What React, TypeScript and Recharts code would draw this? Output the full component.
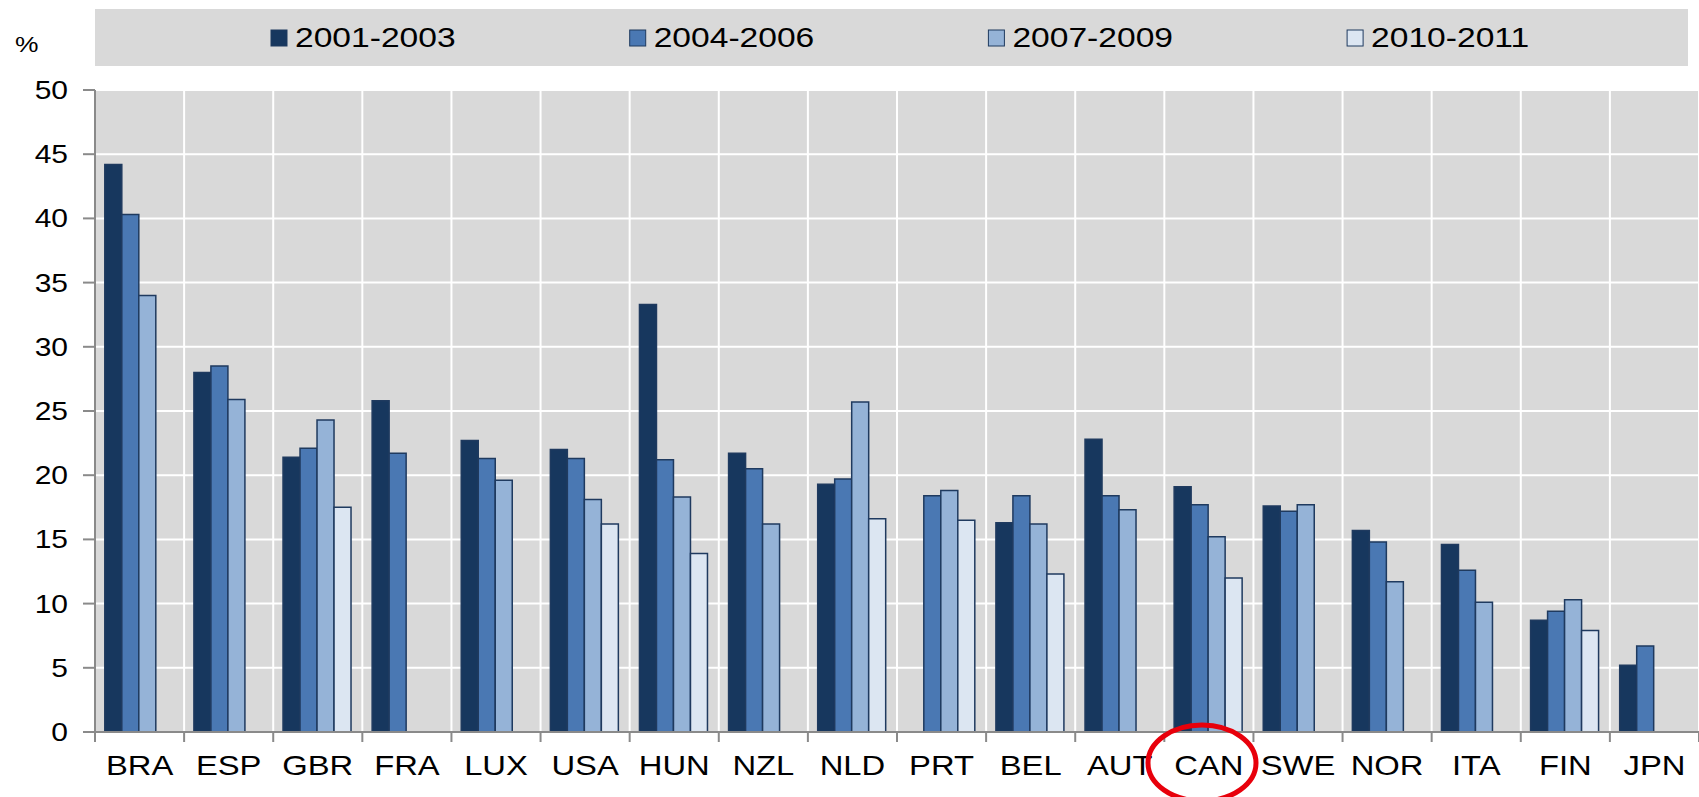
import React from "react";
import { BarChart, Bar, XAxis, YAxis, CartesianGrid } from "recharts";

const countries = ["BRA", "ESP", "GBR", "FRA", "LUX", "USA", "HUN", "NZL", "NLD", "PRT", "BEL", "AUT", "CAN", "SWE", "NOR", "ITA", "FIN", "JPN"];
const p2001_2003 = [44.2, 28.0, 21.4, 25.8, 22.7, 22.0, 33.3, 21.7, 19.3, null, 16.3, 22.8, 19.1, 17.6, 15.7, 14.6, 8.7, 5.2];
const p2004_2006 = [40.3, 28.5, 22.1, 21.7, 21.3, 21.3, 21.2, 20.5, 19.7, 18.4, 18.4, 18.4, 17.7, 17.2, 14.8, 12.6, 9.4, 6.7];
const p2007_2009 = [34.0, 25.9, 24.3, null, 19.6, 18.1, 18.3, 16.2, 25.7, 18.8, 16.2, 17.3, 15.2, 17.7, 11.7, 10.1, 10.3, null];
const p2010_2011 = [null, null, 17.5, null, null, 16.2, 13.9, null, 16.6, 16.5, 12.3, null, 12.0, null, null, null, 7.9, null];
const periods = ["2001-2003", "2004-2006", "2007-2009", "2010-2011"];
const yTicks = [0, 5, 10, 15, 20, 25, 30, 35, 40, 45, 50];

const colors = ["#17375e", "#4a78b3", "#95b3d7", "#dce6f2"];
const W = 1699;
const H = 797;
const AXIS_W = 95;
const PLOT_W = W - AXIS_W;
const FONT = "'Liberation Sans', Arial, sans-serif";

const data = countries.map((name, i) => ({
  name,
  a: p2001_2003[i],
  b: p2004_2006[i],
  c: p2007_2009[i],
  d: p2010_2011[i],
}));
const keys = ["a", "b", "c", "d"];

function XTick({ x, y, payload, index }: any) {
  const band = PLOT_W / countries.length;
  return (
    <g>
      <line x1={x - band / 2} x2={x - band / 2} y1={y} y2={y + 10} stroke="#8a8a8a" strokeWidth={2} />
      {index === countries.length - 1 && (
        <line x1={x + band / 2} x2={x + band / 2} y1={y} y2={y + 10} stroke="#8a8a8a" strokeWidth={2} />
      )}
      <text
        transform={`translate(${x},${y + 43}) scale(1.17,1)`}
        textAnchor="middle"
        fontSize={28}
        fontFamily={FONT}
        fill="#000"
      >
        {payload.value}
      </text>
    </g>
  );
}

function YTick({ x, y, payload }: any) {
  return (
    <text
      transform={`translate(${x},${y}) scale(1.2,1)`}
      textAnchor="end"
      dy="0.36em"
      fontSize={25}
      fontFamily={FONT}
      fill="#000"
    >
      {payload.value}
    </text>
  );
}

export default function App() {
  return (
    <div style={{ position: "absolute", left: 0, top: 0, width: W, height: H, background: "#fff" }}>
      <BarChart
        width={W}
        height={H}
        data={data}
        margin={{ top: 90, right: 0, bottom: 0, left: 0 }}
        barCategoryGap="11%"
        barGap={0}
      >
        <CartesianGrid
          fill="#d9d9d9"
          fillOpacity={1}
          stroke="#ffffff"
          strokeWidth={2}
          verticalCoordinatesGenerator={({ offset }: any) =>
            Array.from({ length: countries.length + 1 }, (_, i) => offset.left + (i * offset.width) / countries.length)
          }
        />
        <XAxis
          dataKey="name"
          interval={0}
          height={65}
          tickSize={0}
          tickMargin={0}
          tickLine={false}
          axisLine={{ stroke: "#8a8a8a", strokeWidth: 2 }}
          tick={<XTick />}
        />
        <YAxis
          type="number"
          domain={[0, 50]}
          ticks={yTicks}
          width={AXIS_W}
          tickSize={12}
          tickMargin={15}
          tickLine={{ stroke: "#8a8a8a", strokeWidth: 2 }}
          axisLine={{ stroke: "#8a8a8a", strokeWidth: 2 }}
          tick={<YTick />}
        />
        {keys.map((k, i) => (
          <Bar
            key={k}
            dataKey={k}
            name={periods[i]}
            fill={colors[i]}
            stroke="#1f3a5f"
            strokeWidth={1.5}
            isAnimationActive={false}
          />
        ))}
      </BarChart>
      <svg
        width={W}
        height={H}
        style={{ position: "absolute", left: 0, top: 0, pointerEvents: "none" }}
      >
        <rect x={95} y={9} width={1593} height={57} fill="#d9d9d9" />
        {periods.map((p, i) => {
          const sx = 271 + i * 358.7;
          return (
            <g key={p}>
              <rect x={sx} y={30} width={16} height={16} fill={colors[i]} stroke="#1f3a5f" strokeWidth={1} />
              <text
                transform={`translate(${sx + 24},46.5) scale(1.2,1)`}
                fontSize={28}
                fontFamily={FONT}
                fill="#000"
              >
                {p}
              </text>
            </g>
          );
        })}
        <text transform="translate(15,52) scale(1.2,1)" fontSize={22} fontFamily={FONT} fill="#000">
          %
        </text>
        <ellipse cx={1202} cy={763} rx={54} ry={38} fill="none" stroke="#e8000b" strokeWidth={5} />
      </svg>
    </div>
  );
}
